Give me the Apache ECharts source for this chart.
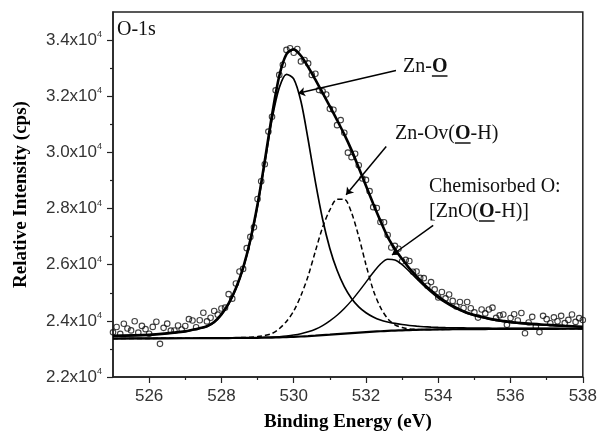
<!DOCTYPE html>
<html>
<head>
<meta charset="utf-8">
<script src="https://cdn.jsdelivr.net/npm/echarts@6/dist/echarts.min.js"></script>
<style>
html,body{margin:0;padding:0;background:#fff;}
#chart{width:600px;height:437px;}
</style>
</head>
<body>
<div id="chart"></div>
<script>
// ---- raw spectrum (binding energy, eV) ----
const energy = [
525.0,525.1,525.2,525.3,525.4,525.5,525.6,525.7,525.8,525.9,
526.0,526.1,526.2,526.3,526.4,526.5,526.6,526.7,526.8,526.9,
527.0,527.1,527.2,527.3,527.4,527.5,527.6,527.7,527.8,527.9,
528.0,528.1,528.2,528.3,528.4,528.5,528.6,528.7,528.8,528.9,
529.0,529.1,529.2,529.3,529.4,529.5,529.6,529.7,529.8,529.9,
530.0,530.1,530.2,530.3,530.4,530.5,530.6,530.7,530.8,530.9,
531.0,531.1,531.2,531.3,531.4,531.5,531.6,531.7,531.8,531.9,
532.0,532.1,532.2,532.3,532.4,532.5,532.6,532.7,532.8,532.9,
533.0,533.1,533.2,533.3,533.4,533.5,533.6,533.7,533.8,533.9,
534.0,534.1,534.2,534.3,534.4,534.5,534.6,534.7,534.8,534.9,
535.0,535.1,535.2,535.3,535.4,535.5,535.6,535.7,535.8,535.9,
536.0,536.1,536.2,536.3,536.4,536.5,536.6,536.7,536.8,536.9,
537.0,537.1,537.2,537.3,537.4,537.5,537.6,537.7,537.8,537.9,
538.0];
const counts = [
23590,23780,23535,23895,23730,23660,23985,23580,23820,23705,
23540,23785,23970,23180,23750,23900,23650,23655,23835,23690,
23815,24060,24010,23770,24020,24290,23980,24110,24350,24220,
24440,24470,24950,24790,25330,25760,25850,26590,26990,27330,
28340,28970,29580,30740,31270,32210,32760,33120,33650,33710,
33550,33680,33240,33290,33170,32760,32800,32220,32180,32060,
31550,31520,30970,31150,30700,29990,29830,29950,29540,29070,
29020,28620,28050,28020,27520,27510,27060,26610,26670,26570,
26120,26170,26130,25750,25760,25530,25520,25250,25380,25120,
24830,25030,24800,24940,24710,24510,24670,24460,24670,24450,
24300,24115,24405,24265,24405,24470,24105,24195,24225,23857,
24100,24237,24015,24282,23560,23940,24142,23794,23600,24178,
24060,23912,24124,23986,24178,23920,24034,24228,23962,24096,
24030];

// ---- fitted curves ----
const fitBE = [525.0,526.0,527.0,527.2,527.4,527.6,527.8,528.0,528.2,528.4,528.6,528.8,
529.0,529.2,529.4,529.6,529.8,530.0,530.2,530.4,530.6,530.8,531.0,531.2,531.4,531.6,531.8,
532.0,532.2,532.4,532.6,532.8,533.0,533.2,533.4,533.6,533.8,534.0,534.2,534.4,534.6,534.8,
535.0,535.2,535.4,535.6,535.8,536.0,536.5,537.0,537.5,538.0];
const background = [23370,23375,23380,23380,23382,23384,23385,23386,23388,23390,23392,23394,
23396,23400,23405,23412,23420,23430,23442,23456,23472,23490,23508,23527,23546,23565,23583,
23600,23616,23630,23643,23654,23664,23672,23679,23685,23690,23694,23697,23700,23702,23704,
23706,23708,23709,23710,23711,23712,23714,23716,23718,23720];
const peakZnO = [23470,23500,23620,23675,23735,23800,23950,24220,24600,25140,25860,26840,
28100,29620,31180,32300,32780,32620,31820,30450,28950,27620,26580,25800,25220,24800,24500,
24290,24140,24030,23960,23910,23870,23835,23810,23790,23775,23765,23758,23752,23748,23745,
23742,23740,23738,23736,23735,23734,23732,23730,23728,23726];
const peakZnOv = [23370,23375,23380,23380,23382,23384,23386,23388,23392,23398,23406,23420,
23440,23480,23550,23720,23980,24350,24900,25600,26480,27330,27950,28330,28330,27850,27000,
26000,25100,24480,24080,23860,23760,23715,23695,23690,23692,23695,23697,23700,23702,23704,
23706,23708,23709,23710,23711,23712,23714,23716,23718,23720];
const peakChem = [23370,23375,23380,23380,23382,23384,23386,23388,23390,23393,23396,23400,
23405,23412,23422,23438,23460,23492,23540,23610,23700,23830,24000,24200,24440,24720,25040,
25380,25720,26020,26190,26170,26000,25760,25500,25250,25020,24810,24640,24490,24370,24260,
24180,24120,24060,24010,23970,23935,23880,23840,23810,23780];
const envelope = [23470,23500,23625,23680,23740,23810,23960,24230,24620,25160,25890,26880,
28150,29700,31330,32720,33500,33670,33440,33040,32590,32120,31640,31150,30640,30080,29450,
28810,28170,27560,26990,26560,26200,25870,25580,25310,25080,24870,24690,24530,24400,24290,
24210,24145,24085,24035,23995,23960,23900,23860,23820,23790];

// ---- axes ticks ----
const xMajorTicks = [526,528,530,532,534,536,538];
const xMinorTicks = [527,529,531,533,535,537];
const yMajorTicks = [22000,24000,26000,28000,30000,32000,34000];
const yMinorTicks = [23000,25000,27000,29000,31000,33000];

// ---- annotations: [startBE, startCounts, endBE, endCounts] ----
const arrowZnO  = [532.83, 32913, 530.12, 32105];
const arrowZnOv = [532.56, 30209, 531.45, 28488];
const arrowChem = [533.86, 27399, 532.72, 26345];

const pairs = (xs, ys) => xs.map((x, i) => [x, ys[i]]);
const serif = '"Liberation Serif", "Times New Roman", serif';
const sans = '"Liberation Sans", Arial, sans-serif';

const chart = echarts.init(document.getElementById('chart'), null, {renderer: 'canvas'});

const commonX = {
  type: 'value', min: 525, max: 538, splitLine: {show: false}
};
const commonY = {
  type: 'value', min: 22000, max: 35000, splitLine: {show: false}
};
const lineCol = '#222';

function arrowLine(a) {
  return [{coord: [a[0], a[1]], symbol: 'none'}, {coord: [a[2], a[3]], symbol: 'arrow'}];
}

chart.setOption({
  animation: false,
  backgroundColor: '#fff',
  grid: {left: 113, right: 17, top: 12, bottom: 55, show: true, borderColor: lineCol, borderWidth: 1.5, backgroundColor: 'transparent'},
  xAxis: [
    Object.assign({}, commonX, {
      name: 'Binding Energy (eV)', nameLocation: 'middle', nameGap: 36,
      nameTextStyle: {fontFamily: serif, fontWeight: 'bold', fontSize: 19, color: '#000'},
      axisLine: {show: true, onZero: false, lineStyle: {color: lineCol, width: 1.5}},
      axisTick: {show: true, inside: false, length: 6, customValues: xMajorTicks, lineStyle: {color: lineCol, width: 1.2}},
      axisLabel: {customValues: xMajorTicks, margin: 11, fontFamily: sans, fontSize: 17, color: '#333'}
    }),
    Object.assign({}, commonX, {
      position: 'bottom',
      axisLine: {show: false},
      axisTick: {show: true, inside: false, length: 3, customValues: xMinorTicks, lineStyle: {color: lineCol, width: 1.2}},
      axisLabel: {show: false}
    })
  ],
  yAxis: [
    Object.assign({}, commonY, {
      name: 'Relative Intensity (cps)', nameLocation: 'middle', nameGap: 82,
      nameTextStyle: {fontFamily: serif, fontWeight: 'bold', fontSize: 19, color: '#000'},
      axisLine: {show: true, onZero: false, lineStyle: {color: lineCol, width: 1.5}},
      axisTick: {show: true, inside: false, length: 6, customValues: yMajorTicks, lineStyle: {color: lineCol, width: 1.2}},
      axisLabel: {
        customValues: yMajorTicks, margin: 11,
        formatter: v => '{m|' + (v / 10000).toFixed(1) + 'x10}{s|4}',
        rich: {
          m: {fontFamily: sans, fontSize: 17, color: '#333', lineHeight: 20},
          s: {fontFamily: sans, fontSize: 9, color: '#333', verticalAlign: 'top', lineHeight: 10}
        }
      }
    }),
    Object.assign({}, commonY, {
      position: 'left',
      axisLine: {show: false},
      axisTick: {show: true, inside: false, length: 3, customValues: yMinorTicks, lineStyle: {color: lineCol, width: 1.2}},
      axisLabel: {show: false}
    })
  ],
  series: [
    {
      name: 'raw', type: 'scatter', data: pairs(energy, counts),
      symbol: 'circle', symbolSize: 5.5, z: 2,
      itemStyle: {color: 'rgba(255,255,255,0)', borderColor: '#111', borderWidth: 1.1}
    },
    {
      name: 'background', type: 'line', data: pairs(fitBE, background),
      showSymbol: false, smooth: 0.3, z: 3,
      lineStyle: {color: '#000', width: 2.2}
    },
    {
      name: 'Zn-O', type: 'line', data: pairs(fitBE, peakZnO),
      showSymbol: false, smooth: 0.3, z: 3,
      lineStyle: {color: '#000', width: 1.7}
    },
    {
      name: 'Zn-Ov', type: 'line', data: pairs(fitBE, peakZnOv),
      showSymbol: false, smooth: 0.3, z: 3,
      lineStyle: {color: '#000', width: 1.5, type: [5, 3]}
    },
    {
      name: 'Chemisorbed', type: 'line', data: pairs(fitBE, peakChem),
      showSymbol: false, smooth: 0.3, z: 3,
      lineStyle: {color: '#000', width: 1.5}
    },
    {
      name: 'envelope', type: 'line', data: pairs(fitBE, envelope),
      showSymbol: false, smooth: 0.3, z: 4,
      lineStyle: {color: '#000', width: 2.6},
      markLine: {
        silent: true, animation: false,
        symbolSize: 7,
        label: {show: false},
        lineStyle: {color: '#000', width: 1.5, type: 'solid'},
        data: [arrowLine(arrowZnO), arrowLine(arrowZnOv), arrowLine(arrowChem)]
      }
    }
  ],
  graphic: [
    {type: 'text', x: 117, y: 30, style: {text: 'O-1s', fontFamily: serif, fontSize: 20, fill: '#111', verticalAlign: 'middle'}},
    {type: 'text', x: 403, y: 67, style: {text: 'Zn-{b|O}', fontFamily: serif, fontSize: 20, fill: '#111', verticalAlign: 'middle',
      rich: {b: {fontFamily: serif, fontSize: 20, fontWeight: 'bold', fill: '#111'}}}},
    {type: 'line', shape: {x1: 431.9, y1: 76, x2: 447.5, y2: 76}, style: {stroke: '#111', lineWidth: 1.5}},
    {type: 'text', x: 395, y: 134, style: {text: 'Zn-Ov({b|O}-H)', fontFamily: serif, fontSize: 20, fill: '#111', verticalAlign: 'middle',
      rich: {b: {fontFamily: serif, fontSize: 20, fontWeight: 'bold', fill: '#111'}}}},
    {type: 'line', shape: {x1: 455, y1: 143, x2: 470.6, y2: 143}, style: {stroke: '#111', lineWidth: 1.5}},
    {type: 'text', x: 429, y: 187, style: {text: 'Chemisorbed O:', fontFamily: serif, fontSize: 20, fill: '#111', verticalAlign: 'middle'}},
    {type: 'text', x: 429, y: 212, style: {text: '[ZnO({b|O}-H)]', fontFamily: serif, fontSize: 20, fill: '#111', verticalAlign: 'middle',
      rich: {b: {fontFamily: serif, fontSize: 20, fontWeight: 'bold', fill: '#111'}}}},
    {type: 'line', shape: {x1: 479, y1: 221, x2: 494.6, y2: 221}, style: {stroke: '#111', lineWidth: 1.5}}
  ]
});
</script>
</body>
</html>
